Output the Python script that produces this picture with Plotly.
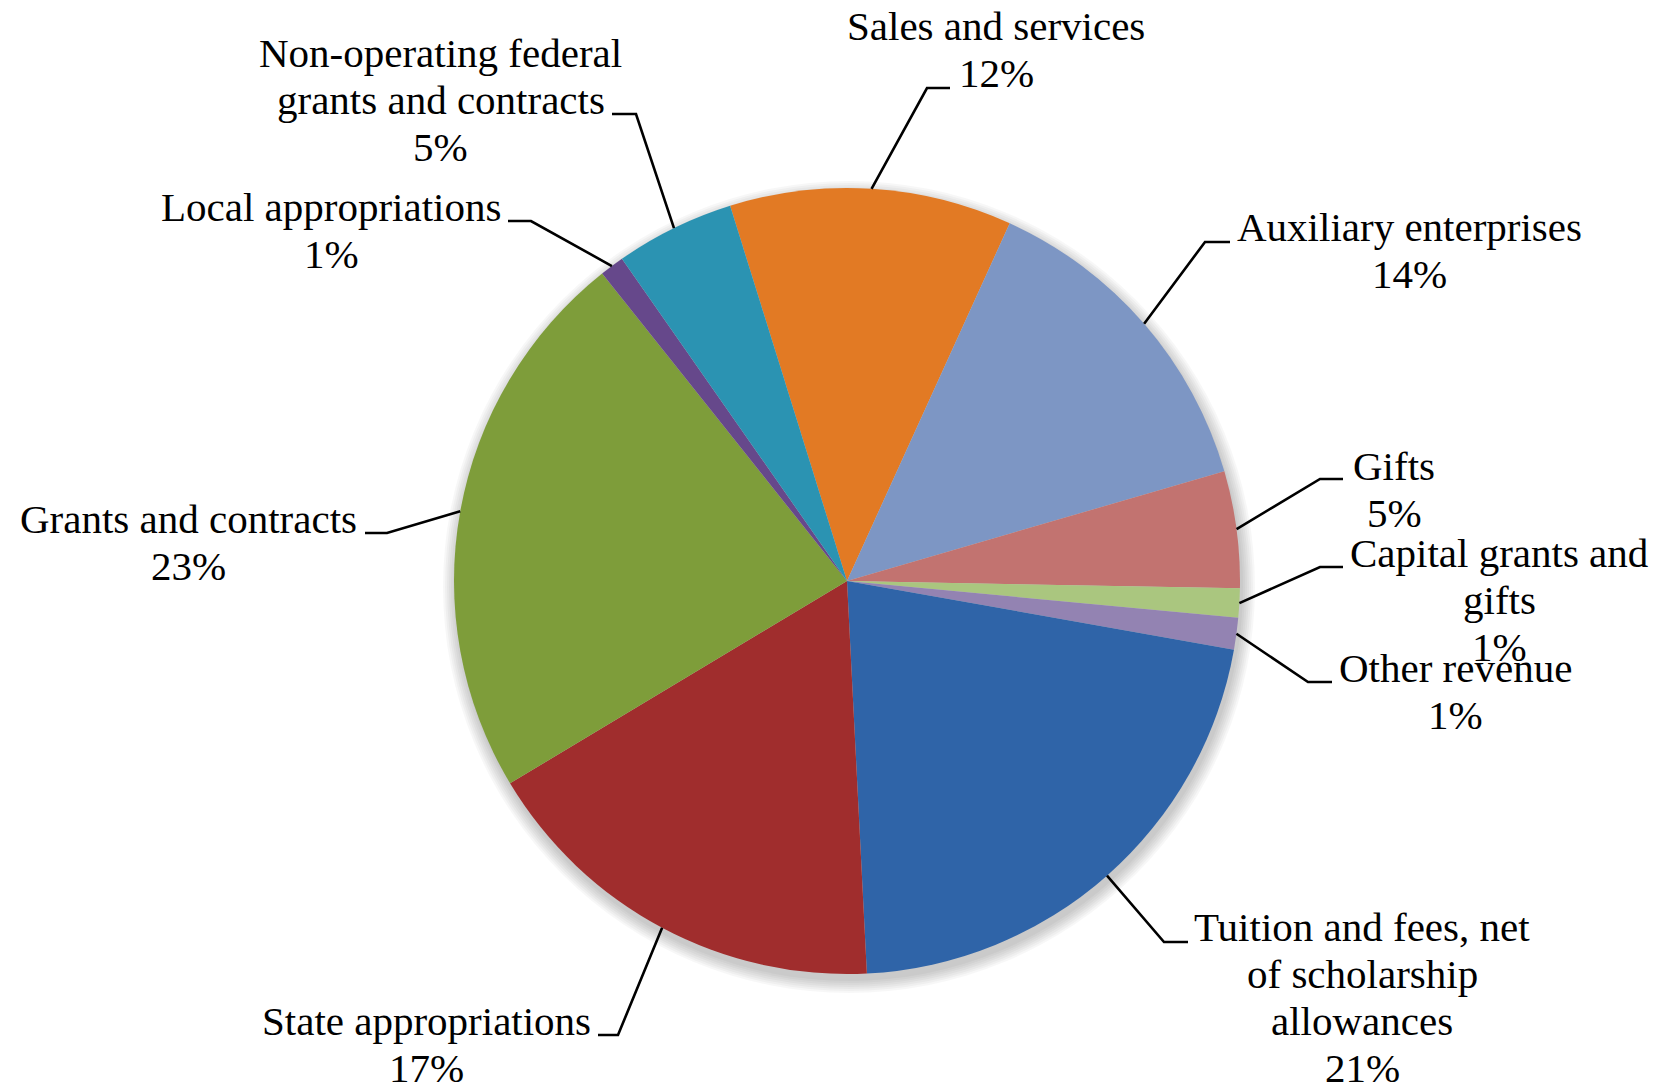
import math
import plotly.graph_objects as go

# ---------------- data ----------------
categories = [
    "Sales and services",
    "Auxiliary enterprises",
    "Gifts",
    "Capital grants and gifts",
    "Other revenue",
    "Tuition and fees, net of scholarship allowances",
    "State appropriations",
    "Grants and contracts",
    "Local appropriations",
    "Non-operating federal grants and contracts",
]
shares = [11.6, 13.7, 4.8, 1.2, 1.3, 21.4, 17.2, 22.9, 1.0, 4.9]
label_lines = [
    ["Sales and services"],
    ["Auxiliary enterprises"],
    ["Gifts"],
    ["Capital grants and", "gifts"],
    ["Other revenue"],
    ["Tuition and fees, net", "of scholarship", "allowances"],
    ["State appropriations"],
    ["Grants and contracts"],
    ["Local appropriations"],
    ["Non-operating federal", "grants and contracts"],
]

# ---------------- style / layout ----------------
colors = ["#E27A24", "#7D96C4", "#C27370", "#AAC67F", "#9383B2",
          "#2F64A8", "#A02D2D", "#7E9D3A", "#66488B", "#2B93B2"]
W, H = 1675, 1088
CX, CY, R = 847, 581, 393
ROTATION = -17.3
FONT = "Liberation Serif"
FSIZE = 41
LINE_H = 47

# label placement: text centre x, first-line baseline y, elbow point, end point (pixels)
placement = [
    dict(tx=996, by=40, elbow=(927, 88), end=(950, 88)),
    dict(tx=1409, by=241, elbow=(1205, 242), end=(1230, 242)),
    dict(tx=1394, by=480, elbow=(1320, 479), end=(1343, 479)),
    dict(tx=1499, by=567, elbow=(1320, 567), end=(1343, 567)),
    dict(tx=1455, by=682, elbow=(1308, 682), end=(1332, 682)),
    dict(tx=1362, by=941, elbow=(1164, 942), end=(1188, 942)),
    dict(tx=426, by=1035, elbow=(618, 1035), end=(598, 1035)),
    dict(tx=188, by=533, elbow=(387, 533), end=(365, 533)),
    dict(tx=331, by=221, elbow=(531, 221), end=(508, 221)),
    dict(tx=441, by=67, elbow=(636, 114), end=(612, 114)),
]


def px(x):
    return x / W


def py(y):
    return 1 - y / H


total = sum(shares)
pcts = [f"{int(v / total * 100 + 0.5)}%" for v in shares]

fig = go.Figure()
fig.add_trace(go.Pie(
    labels=categories,
    values=shares,
    sort=False,
    direction="clockwise",
    rotation=ROTATION,
    textinfo="none",
    hovertemplate="%{label}<br>%{percent}<extra></extra>",
    marker=dict(colors=colors, line=dict(width=0)),
    showlegend=False,
    domain=dict(x=[px(CX - R), px(CX + R)], y=[py(CY + R), py(CY - R)]),
))

shapes = []
# soft drop shadow
for k in range(7):
    rr = R + 1 + 2 * k
    sx, sy = CX + 2, CY + 6
    shapes.append(dict(type="circle", xref="paper", yref="paper", layer="below",
                       x0=px(sx - rr), x1=px(sx + rr), y0=py(sy + rr), y1=py(sy - rr),
                       fillcolor="rgba(0,0,0,0.03)", line=dict(width=0)))

annotations = []
cum = 0.0
for i, v in enumerate(shares):
    mid = ROTATION + (cum + v / 2) / total * 360
    cum += v
    a = math.radians(mid)
    ex, ey = CX + R * math.sin(a), CY - R * math.cos(a)
    p = placement[i]
    (bx, byy), (nx, ny) = p["elbow"], p["end"]
    path = f"M {px(ex)},{py(ey)} L {px(bx)},{py(byy)} L {px(nx)},{py(ny)}"
    shapes.append(dict(type="path", xref="paper", yref="paper", path=path,
                       line=dict(color="black", width=2.6)))
    lines = label_lines[i] + [pcts[i]]
    for j, t in enumerate(lines):
        baseline = p["by"] + j * LINE_H
        annotations.append(dict(
            x=px(p["tx"]), y=py(baseline - 14), xref="paper", yref="paper",
            text=t, showarrow=False, xanchor="center", yanchor="middle",
            font=dict(family=FONT, size=FSIZE, color="black"),
        ))

fig.update_layout(
    width=W, height=H,
    margin=dict(l=0, r=0, t=0, b=0),
    paper_bgcolor="white", plot_bgcolor="white",
    shapes=shapes, annotations=annotations,
)
fig.write_html("out.html", config={"displayModeBar": False},
               post_script="document.body.style.margin='0';")
